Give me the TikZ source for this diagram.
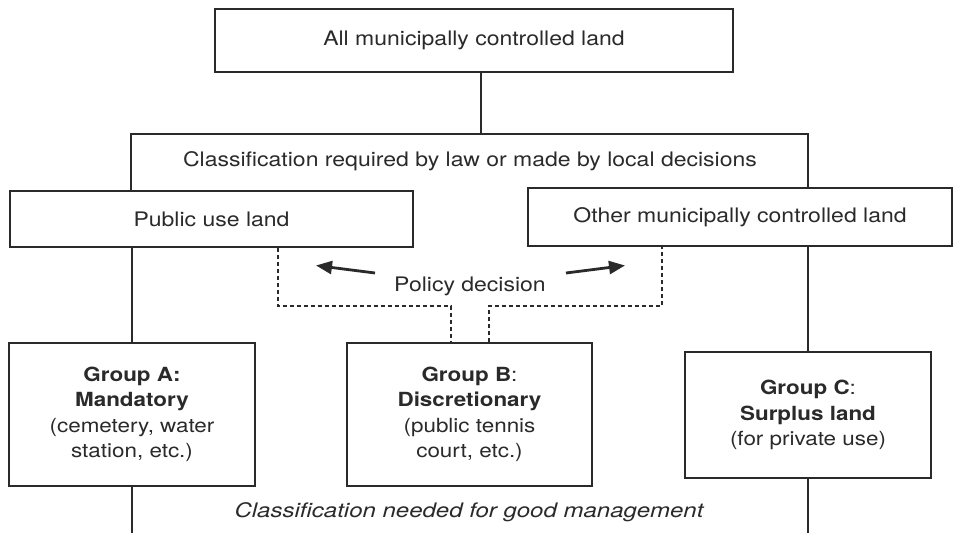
\documentclass[tikz,border=0pt]{standalone}
\usepackage{fontspec}
\setmainfont{TeX Gyre Heros}[FakeStretch=1.15]
\usetikzlibrary{arrows.meta,calc}
\definecolor{ink}{HTML}{2A2A2A}
\begin{document}
\begin{tikzpicture}[x=1pt,y=-1pt,
  box/.style={draw=ink,line width=1.3pt,inner sep=0pt,align=center,text=ink,fill=white},
  lbl/.style={inner sep=0pt,align=center,text=ink,font=\fontsize{20}{24}\selectfont},
  grp/.style={box,font=\fontsize{19.5}{25.5}\selectfont},
  conn/.style={draw=ink,line width=1.1pt},
  dsh/.style={draw=ink,line width=1.1pt,dash pattern=on 4pt off 3pt},
  pol/.style={draw=ink,line width=2.8pt,-{Triangle[length=16pt,width=13pt]}}]
\useasboundingbox (0,0) rectangle (980,533);
% top box
\node[box,minimum width=518pt,minimum height=63pt,font=\fontsize{20}{24}\selectfont] (top) at (474,40.5) {All municipally controlled land};
% classification frame
\coordinate (cl1) at (131,191);
\coordinate (cl2) at (131,134);
\coordinate (cl3) at (808,134);
\coordinate (cl4) at (808,188);
\coordinate (topc) at (481,134);
\draw[conn] (481,72) -- (topc);
\draw[conn] (cl1) -- (cl2) -- (cl3) -- (cl4);
\node[lbl] (cls) at (470,161) {Classification required by law or made by local decisions};
% public / other
\node[box,minimum width=403pt,minimum height=56pt,font=\fontsize{20}{24}\selectfont] (pub) at (211.5,219) {Public use land};
\node[box,minimum width=424pt,minimum height=58pt,font=\fontsize{20}{24}\selectfont] (oth) at (740,217) {Other municipally controlled land};
% groups
\node[grp,minimum width=246pt,minimum height=143pt] (ga) at (132,414.5) {\textbf{Group A:}\\\textbf{Mandatory}\\(cemetery, water\\station, etc.)};
\node[grp,minimum width=245pt,minimum height=143pt] (gb) at (469.5,414.5) {\textbf{Group B}:\\\textbf{Discretionary}\\(public tennis\\court, etc.)};
\node[grp,minimum width=246pt,minimum height=126pt] (gc) at (808,415) {\textbf{Group C}:\\\textbf{Surplus land}\\(for private use)};
% solid connectors
\draw[conn] (pub.south -| ga) -- (ga.north);
\draw[conn] (oth.south -| gc) -- (gc.north);
\coordinate (ea) at (132,533);
\coordinate (ec) at (808,533);
\draw[conn] (ga.south) -- (ea);
\draw[conn] (gc.south) -- (ec);
% dashed policy connectors
\coordinate (d1) at (278,306);
\coordinate (d2) at (451,306);
\coordinate (d3) at (489,306);
\coordinate (d4) at (662,306);
\draw[dsh] (pub.south -| d1) -- (d1) -- (d2) -- (gb.north -| d2);
\draw[dsh] (gb.north -| d3) -- (d3) -- (d4) -- (oth.south -| d4);
\node[lbl] (pd) at (470,286) {Policy decision};
\coordinate (al) at (316,265.5);
\coordinate (ar) at (625,265.5);
\draw[pol] (375,273) -- (al);
\draw[pol] (566,273) -- (ar);
\node[lbl,font=\fontsize{20}{24}\itshape\addfontfeature{FakeStretch=1.2}] (cn) at (469,512) {Classification needed for good management};
\end{tikzpicture}
\end{document}
